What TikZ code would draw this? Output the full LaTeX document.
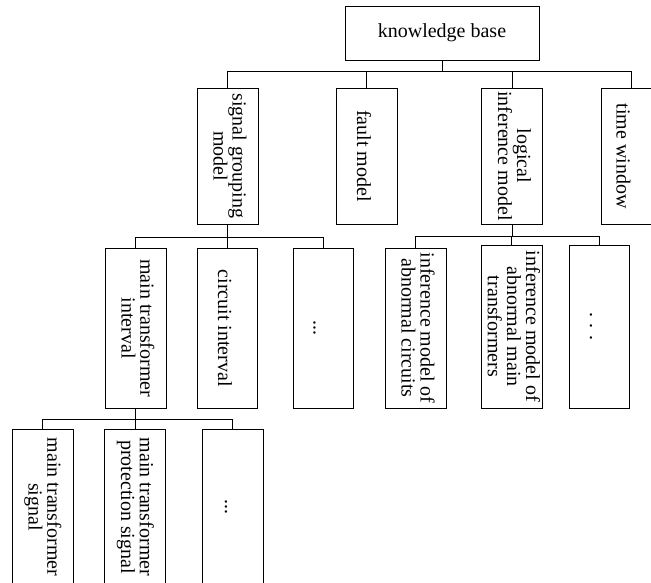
\documentclass[tikz,border=0pt]{standalone}
\usepackage{fontspec}
\setmainfont{Liberation Serif}
\usepackage{graphicx}
\newcommand{\rottext}[1]{\rotatebox{-90}{\begin{tabular}{@{}c@{}}#1\end{tabular}}}
\begin{document}
\begin{tikzpicture}[x=1pt,y=-1pt,
  box/.style={draw, line width=0.8pt, inner sep=0pt},
  conn/.style={line width=0.8pt},
  txt/.style={font=\fontsize{20}{17}\selectfont, inner sep=0pt}]
\useasboundingbox (0,0) rectangle (651,582);
\clip (0,0) rectangle (651,582);

% level 1
\node[box, minimum width=194pt, minimum height=54pt, font=\fontsize{20}{17}\selectfont] (kb) at (442,33) {knowledge base};

% level 2
\node[box, minimum width=61pt, minimum height=136pt, label={[txt]center:\rottext{signal grouping\\model}}] (sg) at (227.5,156) {};
\node[box, minimum width=61pt, minimum height=136pt, label={[txt,xshift=-5pt]center:\rottext{fault model}}] (fm) at (366.5,156) {};
\node[box, minimum width=61pt, minimum height=136pt, label={[txt]center:\rottext{logical\\inference model}}] (li) at (512,156) {};
\node[box, minimum width=60pt, minimum height=136pt, label={[txt,xshift=-10pt]center:\rottext{time window}}] (tw) at (631,156) {};

% level 3 left
\node[box, minimum width=61pt, minimum height=159.5pt, label={[txt]center:\rottext{main transformer\\interval}}] (mti) at (135.5,328.25) {};
\node[box, minimum width=60pt, minimum height=159.5pt, label={[txt,xshift=-4.5pt]center:\rottext{circuit interval}}] (ci) at (227,328.25) {};
\node[box, minimum width=60pt, minimum height=159.5pt, label={[txt,xshift=-6pt]center:\rottext{...}}] (d1) at (323,328.25) {};

% level 3 right
\node[box, minimum width=61pt, minimum height=160pt, label={[txt]center:\rottext{inference model of\\abnormal circuits}}] (aic) at (415.5,328) {};
\node[box, minimum width=61pt, minimum height=163pt, label={[txt]center:\rottext{inference model of\\abnormal main\\transformers}}] (amt) at (511.5,326.5) {};
\node[box, minimum width=60pt, minimum height=163pt, label={[txt,xshift=-5.5pt]center:\rottext{. . .}}] (d2) at (599,326.5) {};

% level 4
\node[box, minimum width=61pt, minimum height=156pt, label={[txt]center:\rottext{main transformer\\signal}}] (mts) at (42.5,507) {};
\node[box, minimum width=61pt, minimum height=156pt, label={[txt]center:\rottext{main transformer\\protection signal}}] (mtps) at (135,507) {};
\node[box, minimum width=61pt, minimum height=156pt, label={[txt,xshift=-4pt]center:\rottext{...}}] (d3) at (232.5,507) {};

% connectors
\draw[conn] (kb.south) -- (kb.south |- 0,71) coordinate (j1);
\foreach \n in {sg,fm,li,tw} \draw[conn] (\n.north) |- (j1);

\draw[conn] (sg.south) -- (sg.south |- 0,237.5) coordinate (j2);
\foreach \n in {mti,ci,d1} \draw[conn] (\n.north) |- (j2);

\draw[conn] (li.south) -- (li.south |- 0,236.5) coordinate (j3);
\foreach \n in {aic,amt,d2} \draw[conn] (\n.north) |- (j3);

\draw[conn] (mti.south) -- (mti.south |- 0,419) coordinate (j4);
\foreach \n in {mts,mtps,d3} \draw[conn] (\n.north) |- (j4);
\end{tikzpicture}
\end{document}
